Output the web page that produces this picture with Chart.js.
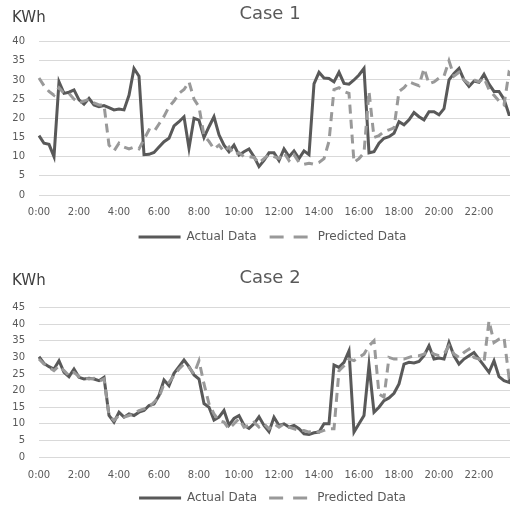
<!DOCTYPE html>
<html><head><meta charset="utf-8">
<script src="https://cdn.jsdelivr.net/npm/chart.js@4.4.1/dist/chart.umd.min.js"></script>
<style>
html,body{margin:0;padding:0;background:#fff;overflow:hidden}
#wrap{position:relative;width:510px;height:508px;overflow:hidden;background:#fff}
.box{position:absolute;left:0;width:545px}
</style></head><body>
<div id="wrap">
<div class="box" style="top:0;height:254px"><canvas id="c1" width="545" height="254"></canvas></div>
<div class="box" style="top:262px;height:252px"><canvas id="c2" width="545" height="252"></canvas></div>
</div>
<script>
// 15-minute time categories 0:00 ... 23:45
const times = [];
for (let h = 0; h < 24; h++) for (let m = 0; m < 60; m += 15) times.push(h + ':' + (m < 10 ? '0' + m : m));
const tickLabels = ['0:00','2:00','4:00','6:00','8:00','10:00','12:00','14:00','16:00','18:00','20:00','22:00'];
const seriesNames = ['Actual Data', 'Predicted Data'];
const unitText = 'KWh';

const case1Actual = [
15.5,13.5,13.2,10.0,29.5,26.5,26.8,27.4,24.8,23.7,25.2,23.5,23.0,23.3,22.8,22.2,
22.4,22.2,26.0,33.0,31.0,10.5,10.6,11.1,12.5,13.9,14.8,18.0,19.1,20.4,12.2,20.0,
19.5,15.0,17.8,20.4,15.7,13.0,11.3,13.0,10.4,11.3,12.0,10.0,7.4,9.0,11.0,11.0,
9.0,12.0,10.0,11.5,9.5,11.5,10.5,29.0,32.0,30.5,30.4,29.5,32.0,29.1,28.9,30.0,
31.3,33.0,11.0,11.3,13.5,14.8,15.2,16.1,19.1,18.3,19.6,21.5,20.4,19.6,21.7,21.7,
20.9,22.5,30.0,31.7,33.0,30.0,28.3,29.7,29.4,31.5,28.9,27.0,27.0,25.0,21.0,21.0];
const case1Predicted = [
30.5,28.5,27.0,26.0,28.0,26.5,26.5,25.0,24.0,24.5,25.0,24.0,23.5,23.5,13.0,11.5,
13.5,12.5,12.0,12.5,12.0,14.5,17.0,16.5,18.5,20.5,23.0,24.5,26.5,27.5,29.5,25.0,
23.0,15.5,14.0,12.0,13.0,11.3,12.5,10.5,11.0,10.0,10.0,9.8,8.3,9.5,10.5,10.0,
9.5,11.0,9.0,10.5,8.5,8.0,8.3,8.0,8.5,9.5,14.0,27.5,28.0,27.0,26.5,8.5,
9.5,11.0,27.0,15.0,15.5,16.5,17.0,17.5,27.0,28.0,29.5,29.0,28.5,33.0,29.0,29.5,
30.5,31.0,35.0,31.0,32.0,30.0,29.0,30.0,29.5,30.5,27.5,26.0,24.5,23.5,32.0,31.0];
const case2Actual = [
30.2,28.2,27.2,26.5,29.0,25.5,24.2,26.5,24.0,23.5,23.7,23.5,23.0,24.0,12.5,10.5,
13.5,12.0,13.0,12.5,13.5,14.0,15.5,16.0,18.5,23.2,21.5,25.2,27.2,29.2,27.2,24.7,
23.5,16.1,15.0,11.1,12.0,14.0,9.6,11.6,12.5,9.6,8.6,10.0,12.1,9.5,7.6,12.0,
9.5,10.0,9.0,9.5,8.5,7.0,6.8,7.3,7.5,10.0,10.0,27.7,27.0,28.5,32.0,7.5,
10.0,12.5,27.7,13.5,15.0,17.0,17.8,19.2,22.0,28.0,28.5,28.3,28.8,30.5,33.5,29.5,
29.8,29.5,34.5,30.5,28.0,29.5,30.5,31.5,29.5,27.5,25.5,29.0,24.2,23.0,22.5,27.0];
const case2Predicted = [
29.5,28.0,27.0,26.0,27.5,26.0,24.5,25.5,24.2,23.8,23.5,23.7,22.8,23.5,12.5,11.0,
12.5,12.0,12.5,13.0,14.0,14.5,15.0,16.5,18.0,22.0,22.5,24.5,26.5,28.0,27.0,25.0,
29.0,22.0,16.0,13.0,11.0,10.5,8.5,10.0,11.5,9.0,9.5,10.5,9.0,10.0,8.5,10.0,
9.0,10.0,9.0,8.5,8.0,8.0,7.5,8.0,7.5,8.0,8.5,8.5,26.0,27.5,29.5,29.0,
30.0,31.0,33.5,35.0,19.0,18.0,30.0,29.5,29.5,29.5,30.0,30.5,30.5,31.0,32.0,31.0,
30.5,31.0,33.5,31.0,30.0,31.5,32.5,30.0,29.5,28.5,41.0,34.5,35.5,36.0,24.0,25.0];

const FONT = '"DejaVu Sans", sans-serif';
const TXT = '#595959';

const unitLabel = {
  id: 'unitLabel',
  afterDraw(chart, args, opts) {
    const ctx = chart.ctx;
    ctx.save();
    ctx.font = '15px ' + FONT;
    ctx.fillStyle = '#404040';
    ctx.textBaseline = 'middle';
    ctx.textAlign = 'left';
    ctx.fillText(opts.text, opts.x, opts.y);
    ctx.restore();
  }
};
// centre title and legend over the same span as the original chart
const boxSpan = {
  id: 'boxSpan',
  afterLayout(chart, args, opts) {
    const t = chart.titleBlock, l = chart.legend;
    if (t) { t.left = opts.titleLeft; t.right = opts.right; t.width = t.right - t.left; }
    if (l) { l.left = opts.legendLeft; l.right = opts.right; l.width = l.right - l.left; }
  }
};

function makeChart(id, title, actual, predicted, yMax, cfg) {
  return new Chart(document.getElementById(id), {
    type: 'line',
    data: {
      labels: times,
      datasets: [
        { label: seriesNames[0], data: actual, borderColor: '#595959', backgroundColor: '#595959',
          borderWidth: 3, pointRadius: 0, tension: 0, order: 1 },
        { label: seriesNames[1], data: predicted, borderColor: '#999999', backgroundColor: '#999999',
          borderWidth: 3, borderDash: [9, 6], pointRadius: 0, tension: 0, order: 0 }
      ]
    },
    plugins: [unitLabel, boxSpan],
    options: {
      responsive: false, animation: false,
      layout: { padding: { left: 0, right: 31, top: 0, bottom: cfg.padBottom } },
      plugins: {
        tooltip: { enabled: false },
        unitLabel: { text: unitText, x: 12, y: cfg.unitY },
        boxSpan: { titleLeft: 26, legendLeft: 31, right: 514 },
        title: { display: true, text: title, color: TXT,
          font: { family: FONT, size: 18, weight: 'normal' },
          padding: { top: cfg.titleTop, bottom: cfg.titleBottom } },
        legend: {
          position: 'bottom',
          labels: {
            usePointStyle: true, pointStyle: 'line', pointStyleWidth: 42, boxHeight: 12,
            padding: cfg.legendPad, color: TXT, font: { family: FONT, size: 12 },
            generateLabels(chart) {
              const items = Chart.defaults.plugins.legend.labels.generateLabels(chart);
              items.forEach(it => { it.lineWidth = 3; it.pointStyle = 'line';
                it.lineDash = it.datasetIndex === 1 ? [14, 10] : []; });
              return items.sort((a, b) => a.datasetIndex - b.datasetIndex);
            }
          }
        }
      },
      scales: {
        x: {
          grid: { display: false, drawTicks: false }, border: { display: false },
          ticks: { autoSkip: false, maxRotation: 0, minRotation: 0, padding: cfg.xPad, color: TXT,
            font: { family: FONT, size: 10 },
            callback(v, i) { const l = times[i]; return tickLabels.includes(l) ? l : ''; } },
          afterFit(s) { s.height = 23; }
        },
        y: {
          min: 0, max: yMax,
          grid: { color: '#d9d9d9', lineWidth: 1, drawTicks: false }, border: { display: false },
          ticks: { stepSize: 5, autoSkip: false, padding: 14, color: TXT, font: { family: FONT, size: 10 } },
          afterFit(s) { s.width = 39; }
        }
      }
    }
  });
}

makeChart('c1', 'Case 1', case1Actual, case1Predicted, 40,
  { padBottom: 1, unitY: 18, titleTop: 4, titleBottom: 16, xPad: 11, legendPad: 13 });
makeChart('c2', 'Case 2', case2Actual, case2Predicted, 45,
  { padBottom: 0, unitY: 19, titleTop: 6, titleBottom: 18, xPad: 12, legendPad: 12 });
</script>
</body></html>
